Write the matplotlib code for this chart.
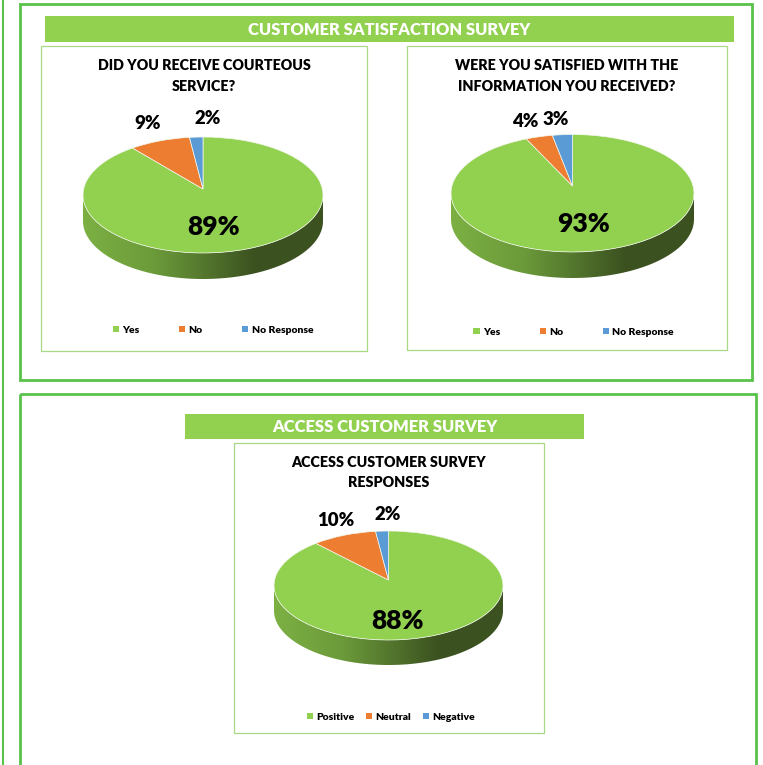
import numpy as np
import matplotlib
matplotlib.use("Agg")
import matplotlib.pyplot as plt
from matplotlib.patches import Rectangle, Polygon
from matplotlib.colors import LinearSegmentedColormap

plt.rcParams['font.family'] = ['Lato', 'DejaVu Sans']
WEIGHT = 'heavy'
plt.rcParams['font.weight'] = WEIGHT

# ---- data
courteous_labels = ["Yes", "No", "No Response"]
courteous_values = [89, 9, 2]
information_labels = ["Yes", "No", "No Response"]
information_values = [93, 4, 3]
access_labels = ["Positive", "Neutral", "Negative"]
access_values = [88, 10, 2]
courteous_title = "DID YOU RECEIVE COURTEOUS\nSERVICE?"
information_title = "WERE YOU SATISFIED WITH THE\nINFORMATION YOU RECEIVED?"
access_title = "ACCESS CUSTOMER SURVEY\nRESPONSES"
header_top = "CUSTOMER SATISFACTION SURVEY"
header_bottom = "ACCESS CUSTOMER SURVEY"
slice_colors = ["#92d050", "#ed7d31", "#5b9bd5"]

W, H = 763, 765
OUTER = "#58c24a"
BAR = "#92d050"
INNER = "#a8da85"

fig = plt.figure(figsize=(W / 100, H / 100), dpi=100, facecolor="white")
main = fig.add_axes([0, 0, 1, 1])
main.set_xlim(0, W)
main.set_ylim(H, 0)
main.axis("off")


def box(x0, y0, x1, y1, color, lw, clip=True):
    main.add_patch(Rectangle((x0, y0), x1 - x0, y1 - y0, fill=False, ec=color, lw=lw, clip_on=clip))


# page frames
main.plot([2.5, 2.5], [0, H], color=OUTER, lw=1.5)
box(19.5, 4, 752, 380, OUTER, 2.0)
box(20, 393.5, 755.5, H + 20, OUTER, 2.0)

# header bars
for (x0, y0, x1, y1, s, fs) in [(45, 16, 734, 42, header_top, 11.9), (185, 414, 584, 439, header_bottom, 11.9)]:
    main.add_patch(Rectangle((x0, y0), x1 - x0, y1 - y0, fc=BAR, ec="none"))
    main.text((x0 + x1) / 2, (y0 + y1) / 2 + 0.5, s, color="white", fontsize=fs, ha="center", va="center")

gradient = LinearSegmentedColormap.from_list(
    "side", [(0, "#7cb043"), (0.3, "#6b9a3a"), (0.72, "#3b5120"), (1, "#3c5220")])


def chart(frame, title, title_x, title_ys, labels, values, ell, apex_y, depth, pct_pos, legend_xy, colsp):
    box(*frame, INNER, 0.9)
    for line, y in zip(title.split("\n"), title_ys):
        main.text(title_x, y, line, fontsize=10.3, ha="center", va="center", color="black")

    left, right, top, bottom = ell
    cx, cy = (left + right) / 2, (top + bottom) / 2
    a, b = (right - left) / 2, (bottom - top) / 2

    # extruded side with horizontal gradient
    t = np.linspace(0, np.pi, 200)
    xs, ys = cx + a * np.cos(t), cy + b * np.sin(t)
    pts = np.column_stack([np.r_[xs, xs[::-1]], np.r_[ys + depth, ys[::-1]]])
    poly = Polygon(pts, closed=True, fc="none", ec="none", transform=main.transData)
    main.add_patch(poly)
    im = main.imshow(np.linspace(0, 1, 256)[None, :], cmap=gradient, aspect="auto",
                     extent=(left, right, cy + b + depth, cy))
    im.set_clip_path(poly)
    main.set_xlim(0, W)
    main.set_ylim(H, 0)

    # pie top
    ax = fig.add_axes([left / W, 1 - bottom / H, (right - left) / W, (bottom - top) / H])
    wedges, _, autotexts = ax.pie(values, colors=slice_colors, startangle=90, counterclock=False,
                                  radius=1, autopct="%d%%",
                                  wedgeprops=dict(edgecolor="#f4f8ee", linewidth=0.5, clip_on=False))
    ax.set_aspect("auto")
    ax.set_xlim(-1, 1)
    ax.set_ylim(-1, 1)
    ax.patch.set_visible(False)
    # perspective: a projective map of the unit disc onto itself moves the apex up
    k = (cy - apex_y) / b
    for w in wedges:
        v = w.get_path().vertices
        den = 1 + k * v[:, 1]
        nx = v[:, 0] * np.sqrt(1 - k ** 2) / den
        ny = (v[:, 1] + k) / den
        v[:, 0], v[:, 1] = nx, ny

    for txt, (px, py), big in zip(autotexts, pct_pos, [True, False, False]):
        txt.set_transform(main.transData)
        txt.set_position((px, py))
        txt.set_fontsize(19 if big else 13.4)
        txt.set_color("black")
        txt.set_fontweight(WEIGHT)
        txt.set_ha("center")
        txt.set_va("center")
        txt.set_clip_on(False)

    leg = ax.legend(wedges, labels, ncol=3, loc="center", bbox_to_anchor=legend_xy,
                    bbox_transform=main.transData, frameon=False, fontsize=7.5,
                    handlelength=0.6, handleheight=0.6, handletextpad=0.3,
                    columnspacing=colsp, borderpad=0, borderaxespad=0)
    for h in leg.legend_handles:
        h.set_linewidth(0)


chart((41, 46, 367, 351), courteous_title, 204, (65.5, 86.5), courteous_labels, courteous_values,
      (83, 323, 137, 253), 189, 26, [(214, 227), (148, 123), (208, 118)], (213, 330), 3.8)
chart((407, 46, 727, 350), information_title, 567, (65.5, 86.5), information_labels, information_values,
      (451, 694, 134.5, 252), 186, 26, [(583, 224), (525, 121), (556, 119)], (573.5, 332), 3.8)
chart((233.5, 443, 544, 733), access_title, 389, (462.5, 482.5), access_labels, access_values,
      (274, 503, 531, 640), 580, 25, [(398, 621), (336, 520), (388, 515)], (391, 717), 1.1)

fig.savefig("out.png", dpi=100, facecolor="white")
